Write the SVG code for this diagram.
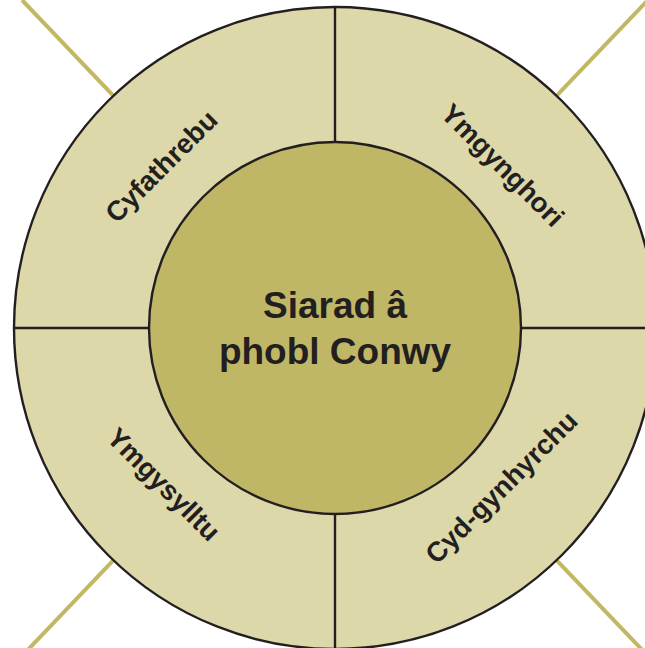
<svg xmlns="http://www.w3.org/2000/svg" width="645" height="648" viewBox="0 0 645 648">
  <style>
    .ray { stroke: #c2b864; stroke-width: 4; fill: none; }
    .edge { stroke: #231f20; stroke-width: 2.4; }
    .ring { fill: #dcd8a9; }
    .hub { fill: #bfb766; }
    .lbl { font-family: "Liberation Sans", Arial, sans-serif; font-weight: bold; font-size: 27.5px; fill: #231f20; text-anchor: middle; }
    .title { font-family: "Liberation Sans", Arial, sans-serif; font-weight: bold; font-size: 37px; fill: #231f20; text-anchor: middle; }
  </style>
  <rect width="645" height="648" fill="#ffffff"/>
  <g id="connectors">
    <line class="ray" x1="22" y1="0" x2="648" y2="656"/>
    <line class="ray" x1="648" y1="0" x2="22" y2="656"/>
  </g>
  <g id="ring">
    <circle class="ring edge" cx="335" cy="328" r="321"/>
    <line class="edge" x1="335" y1="7" x2="335" y2="142"/>
    <line class="edge" x1="335" y1="514" x2="335" y2="650"/>
    <line class="edge" x1="14" y1="328" x2="149" y2="328"/>
    <line class="edge" x1="521" y1="328" x2="656" y2="328"/>
  </g>
  <g id="cyfathrebu">
    <text class="lbl" transform="translate(168,173) rotate(-45)">Cyfathrebu</text>
  </g>
  <g id="ymgynghori">
    <text class="lbl" transform="translate(496,172) rotate(45)">Ymgynghori</text>
  </g>
  <g id="cyd-gynhyrchu">
    <text class="lbl" transform="translate(508,494) rotate(-45)">Cyd-gynhyrchu</text>
  </g>
  <g id="ymgysylltu">
    <text class="lbl" transform="translate(157,491) rotate(45)">Ymgysylltu</text>
  </g>
  <g id="hub">
    <circle class="hub edge" cx="335" cy="328" r="186"/>
    <text class="title" x="335" y="318">Siarad â</text>
    <text class="title" x="335" y="364">phobl Conwy</text>
  </g>
</svg>
